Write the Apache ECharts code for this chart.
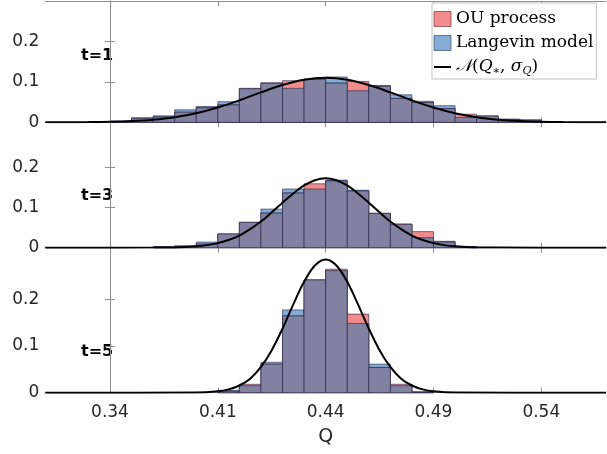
<!DOCTYPE html>
<html><head><meta charset="utf-8">
<script src="https://cdn.jsdelivr.net/npm/echarts@6/dist/echarts.min.js"></script>
<style>html,body{margin:0;padding:0;background:#fff}#c{width:607px;height:454px}</style>
</head><body><div id="c"></div>
<script>
// ---- data (x in bin units; tick labels are the axis' printed labels) ----
const xTickPos = [0, 5, 10, 15, 20];
const xTickLabels = ['0.34', '0.41', '0.44', '0.49', '0.54'];
const yTicks = [0, 0.1, 0.2];
const panelLabels = ['t=1', 't=3', 't=5'];
const binStart = [0,1,2,3,4,5,6,7,8,9,10,11,12,13,14,15,16,17,18,19,20];

const ou1   = [0.003,0.010,0.013,0.025,0.036,0.043,0.084,0.098,0.103,0.107,0.097,0.101,0.089,0.059,0.049,0.034,0.020,0.016,0.008,0.005,0.001];
const lang1 = [0.002,0.011,0.016,0.031,0.039,0.051,0.083,0.096,0.084,0.106,0.112,0.078,0.091,0.068,0.052,0.041,0.012,0.015,0.007,0.006,0.002];
const ou2   = [0,0,0.003,0.005,0.009,0.034,0.063,0.086,0.136,0.159,0.166,0.141,0.086,0.059,0.040,0.014,0.002,0,0,0,0];
const lang2 = [0,0,0.001,0.003,0.014,0.034,0.063,0.096,0.146,0.146,0.168,0.143,0.085,0.058,0.025,0.016,0.003,0,0,0,0];
const ou3   = [0,0,0,0,0,0.003,0.018,0.061,0.164,0.241,0.264,0.168,0.054,0.018,0.001,0,0,0,0,0,0];
const lang3 = [0,0,0,0,0,0.005,0.015,0.065,0.177,0.241,0.261,0.148,0.061,0.015,0.002,0,0,0,0,0,0];

const curveU1 = [-3,-2,-1,0,1,2,3,4,5,6,7,8,9,10,11,12,13,14,15,16,17,18,19,20,21,22,23];
const curve1  = [0.0001,0.0002,0.0005,0.0013,0.0031,0.0066,0.0127,0.0225,0.0366,0.0543,0.0740,0.0922,0.1053,0.110,0.1053,0.0922,0.0740,0.0543,0.0366,0.0225,0.0127,0.0066,0.0031,0.0013,0.0005,0.0002,0.0001];
const curveU2 = [-3,2,3,4,4.5,5,5.5,6,6.5,7,7.5,8,8.5,9,9.5,10,10.5,11,11.5,12,12.5,13,13.5,14,14.5,15,15.5,16,17,18,23];
const curve2  = [0,0.0002,0.0008,0.0035,0.0064,0.0114,0.019,0.030,0.046,0.065,0.088,0.112,0.135,0.155,0.168,0.173,0.168,0.155,0.135,0.112,0.088,0.065,0.046,0.030,0.019,0.0114,0.0064,0.0035,0.0008,0.0002,0];
const curveU3 = [-3,4,5,5.5,6,6.5,7,7.5,8,8.5,9,9.5,10,10.5,11,11.5,12,12.5,13,13.5,14,14.5,15,16,23];
const curve3  = [0,0.0004,0.003,0.0071,0.0154,0.030,0.055,0.091,0.137,0.189,0.237,0.272,0.285,0.272,0.237,0.189,0.137,0.091,0.055,0.030,0.0154,0.0071,0.003,0.0004,0];

// ---- layout / style ----
const panels = [
  {ou: ou1, lang: lang1, cu: curveU1, cv: curve1, top: 1, height: 121.3, ymax: 0.30, labelY: 56},
  {ou: ou2, lang: lang2, cu: curveU2, cv: curve2, top: 122.3, height: 125.4, ymax: 0.312, labelY: 196},
  {ou: ou3, lang: lang3, cu: curveU3, cv: curve3, top: 247.7, height: 145, ymax: 0.31, labelY: 352}
];
const RED = '#f28b8c', BLUE = '#85acd6', MIX = '#8181a2', EDGE = 'rgba(35,35,70,0.6)';
const AX = '#8f8f8f', TXT = '#262626';

function barRender(color) {
  return function (params, api) {
    const v = api.value(2);
    if (!v) return;
    const p0 = api.coord([api.value(0), v]);
    const p1 = api.coord([api.value(1), 0]);
    return {type: 'rect', shape: {x: p0[0], y: p0[1], width: p1[0] - p0[0], height: p1[1] - p0[1]},
            style: {fill: color, stroke: EDGE, lineWidth: 1}};
  };
}

const grid = [], xAxis = [], yAxis = [], series = [], graphic = [];
panels.forEach((p, i) => {
  grid.push({left: 45.3, right: 1, top: p.top, height: p.height});
  const last = i === panels.length - 1;
  const xBase = {type: 'value', gridIndex: i, min: -3, max: 23,
    axisLine: {show: true, onZero: false, lineStyle: {color: AX, width: 1}},
    axisTick: {show: true, inside: true, length: 5, customValues: xTickPos, lineStyle: {color: AX}},
    splitLine: {show: false}};
  xAxis.push(Object.assign({}, xBase, {position: 'bottom',
    axisLabel: last ? {show: true, customValues: xTickPos, margin: 11, color: TXT, fontSize: 17, fontFamily: 'DejaVu Sans',
      formatter: v => xTickLabels[xTickPos.indexOf(Math.round(v))] || ''} : {show: false},
    name: last ? 'Q' : '', nameLocation: 'middle', nameGap: 35,
    nameTextStyle: {color: TXT, fontSize: 19, fontFamily: 'DejaVu Sans'}}));
  xAxis.push(Object.assign({}, xBase, {position: 'top', axisLabel: {show: false}}));
  const yBase = {type: 'value', gridIndex: i, min: 0, max: p.ymax,
    axisLine: {show: true, lineStyle: {color: AX, width: 1}},
    axisTick: {show: true, inside: true, length: 5, customValues: yTicks, lineStyle: {color: AX}},
    splitLine: {show: false}};
  yAxis.push(Object.assign({}, yBase, {position: 'left',
    axisLabel: {show: true, customValues: yTicks, margin: 6, color: TXT, fontSize: 17, fontFamily: 'DejaVu Sans',
      formatter: v => v === 0 ? '0' : v.toFixed(1)}}));
  yAxis.push(Object.assign({}, yBase, {position: 'right', axisLabel: {show: false}}));

  const xi = 2 * i, yi = 2 * i;
  const langData = binStart.map((u, k) => [u, u + 1, p.lang[k]]);
  const ouData = binStart.map((u, k) => [u, u + 1, p.ou[k]]);
  const mixData = binStart.map((u, k) => [u, u + 1, Math.min(p.ou[k], p.lang[k])]);
  series.push({name: 'Langevin model', type: 'custom', xAxisIndex: xi, yAxisIndex: yi, renderItem: barRender(BLUE),
    itemStyle: {color: BLUE}, encode: {x: [0, 1], y: 2}, data: langData, silent: true, z: 2});
  series.push({name: 'OU process', type: 'custom', xAxisIndex: xi, yAxisIndex: yi, renderItem: barRender(RED),
    itemStyle: {color: RED}, encode: {x: [0, 1], y: 2}, data: ouData, silent: true, z: 3});
  series.push({name: 'overlap', type: 'custom', xAxisIndex: xi, yAxisIndex: yi, renderItem: barRender(MIX),
    itemStyle: {color: MIX}, encode: {x: [0, 1], y: 2}, data: mixData, silent: true, z: 4});
  series.push({name: 'normal', type: 'line', xAxisIndex: xi, yAxisIndex: yi, smooth: 0.35, symbol: 'none',
    lineStyle: {color: '#000', width: 2}, itemStyle: {color: '#000'}, z: 5, silent: true,
    data: p.cu.map((u, k) => [u, p.cv[k]])});
  graphic.push({type: 'text', x: 81, y: p.labelY, style: {text: panelLabels[i], font: 'bold 16px "DejaVu Sans"',
    fill: '#000', verticalAlign: 'middle'}});
});

const chart = echarts.init(document.getElementById('c'), null, {renderer: 'canvas'});
chart.setOption({
  animation: false,
  backgroundColor: '#fff',
  grid, xAxis, yAxis, series, graphic,
  legend: {
    orient: 'vertical', left: 432, top: 3, padding: [6, 3, 2, 1.5], itemGap: 4,
    itemWidth: 17, itemHeight: 15, selectedMode: false, symbolKeepAspect: true,
    borderColor: '#c4c4c4', borderWidth: 1, backgroundColor: '#fff', z: 10,
    textStyle: {fontFamily: 'DejaVu Serif', fontSize: 17, color: '#000', lineHeight: 20,
      rich: {
        n: {fontFamily: 'DejaVu Serif', fontSize: 17, lineHeight: 20},
        it: {fontFamily: 'DejaVu Serif', fontSize: 17, fontStyle: 'italic', lineHeight: 20},
        sub: {fontFamily: 'DejaVu Serif', fontSize: 11, fontStyle: 'italic', lineHeight: 11, verticalAlign: 'bottom'}
      }},
    formatter: name => name === 'normal'
      ? '{it|𝒩}{n|(}{it|Q}{sub|∗}{n|, }{it|σ}{sub|Q}{n|)}' : name,
    data: [
      {name: 'OU process', icon: 'rect', itemStyle: {color: RED, borderColor: 'rgba(120,60,60,0.7)', borderWidth: 1}},
      {name: 'Langevin model', icon: 'rect', itemStyle: {color: BLUE, borderColor: 'rgba(60,80,120,0.7)', borderWidth: 1}},
      {name: 'normal', icon: 'path://M0,0 L17,0 L17,2 L0,2 Z', itemStyle: {color: '#000', borderWidth: 0}}
    ]
  }
});
</script>
</body></html>
